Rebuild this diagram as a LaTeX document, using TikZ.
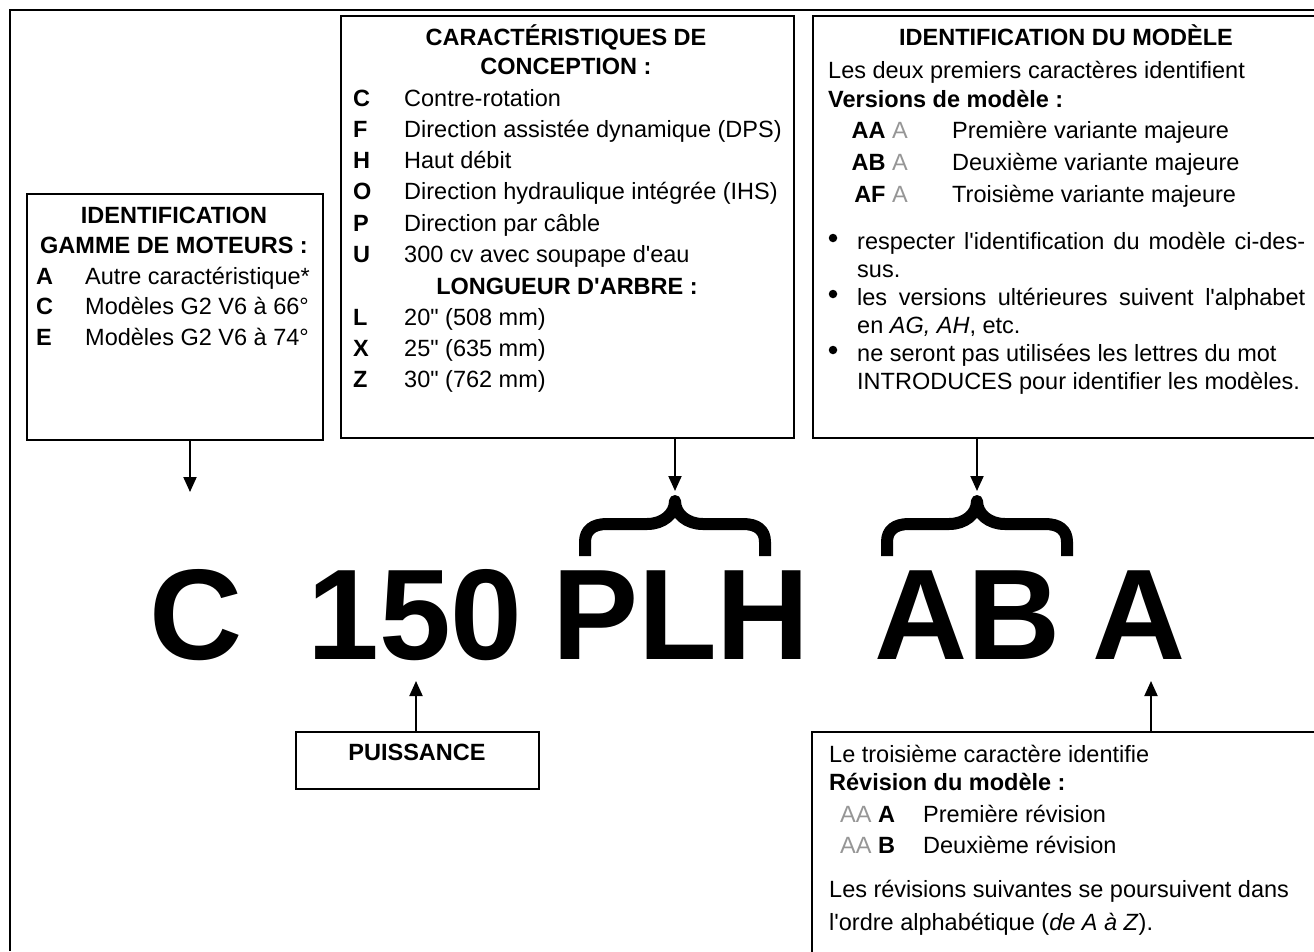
\documentclass[tikz,border=0pt]{standalone}
\usepackage{fontspec}
\setmainfont{Liberation Sans}[Ligatures=TeXOff]
\usetikzlibrary{arrows.meta}
\definecolor{codegrey}{RGB}{150,150,150}

\tikzset{
  box/.style={draw, line width=1.6pt, rectangle, inner sep=0pt, anchor=north west},
  txt/.style={anchor=base west, inner sep=0pt, font=\fontsize{23.5}{28}\selectfont},
  head/.style={anchor=base, inner sep=0pt, font=\fontsize{23.5}{28}\selectfont\bfseries},
  code/.style={anchor=base west, inner sep=0pt, font=\fontsize{23.5}{28}\selectfont\bfseries},
  big/.style={anchor=base, inner sep=0pt, font=\fontsize{129}{129}\selectfont\bfseries},
  dot/.style={circle, fill, inner sep=0pt, minimum size=8.5pt},
  arr/.style={-{Triangle[length=15pt,width=13pt]}, line width=2pt},
  brace/.style={line width=12pt, line join=round},
}

\begin{document}
\begin{tikzpicture}[x=1pt, y=-1pt]
    \useasboundingbox (0,0) rectangle (1314,951);
    \clip (0,0) rectangle (1314,951);
    \draw[line width=1.6pt] (10,951) -- (10,10) -- (1314,10);

    % boxes
    \node[box, minimum width=296pt, minimum height=246pt] (gamme) at (26,193) {};
    \node[box, minimum width=453pt, minimum height=422pt] (conc) at (340,15) {};
    \node[box, minimum width=530pt, minimum height=422pt] (modele) at (812,15) {};
    \node[box, minimum width=243pt, minimum height=57pt] (puis) at (295,731) {};
    \node[box, minimum width=530pt, minimum height=250pt] (rev) at (811,731) {};

    % gamme de moteurs
    \node[head] (g1) at (174,223) {IDENTIFICATION};
    \node[head] (g2) at (174,253) {GAMME DE MOTEURS :};
    \foreach \k/\t [count=\i from 0] in {A/Autre caractéristique*, C/Modèles G2 V6 à 66°, E/Modèles G2 V6 à 74°} {
        \node[code] (gk\i) at (36,284+30.5*\i) {\k};
        \node[txt] (gt\i) at (85,284+30.5*\i) {\t};
    }

    % conception
    \node[head] (c1) at (566,45) {CARACTÉRISTIQUES DE};
    \node[head] (c2) at (566,74) {CONCEPTION :};
    \foreach \k/\t [count=\i from 0] in {C/Contre-rotation, F/Direction assistée dynamique (DPS), H/Haut débit, O/Direction hydraulique intégrée (IHS), P/Direction par câble, U/300 cv avec soupape d'eau} {
        \node[code] (ck\i) at (353,106+31.3*\i) {\k};
        \node[txt] (ct\i) at (404,106+31.3*\i) {\t};
    }
    \node[head] (c3) at (567,294) {LONGUEUR D'ARBRE :};
    \foreach \k/\t [count=\i from 0] in {L/20" (508 mm), X/25" (635 mm), Z/30" (762 mm)} {
        \node[code] (lk\i) at (353,325+31.3*\i) {\k};
        \node[txt] (lt\i) at (404,325+31.3*\i) {\t};
    }

    % modele
    \node[head] (m1) at (1066,45) {IDENTIFICATION DU MODÈLE};
    \node[txt] (m2) at (828,78) {Les deux premiers caractères identifient};
    \node[code] (m3) at (828,107) {Versions de modèle :};
    \foreach \k/\t [count=\i from 0] in {AA/Première variante majeure, AB/Deuxième variante majeure, AF/Troisième variante majeure} {
        \node[code, anchor=base east] (mk\i) at (908,138+32*\i) {\k\ \textmd{\color{codegrey}A}};
        \node[txt] (mt\i) at (952,138+32*\i) {\t};
    }
    \foreach \y [count=\i] in {249,305,361}
        \node[dot] (bul\i) at (833,\y-11) {};
    \node[txt] (b1) at (857,249) {\makebox[448pt][s]{respecter l'identification du modèle ci-des-}};
    \node[txt] (b2) at (857,277) {sus.};
    \node[txt] (b3) at (857,305) {\makebox[448pt][s]{les versions ultérieures suivent l'alphabet}};
    \node[txt] (b4) at (857,333) {en \textit{AG, AH}, etc.};
    \node[txt] (b5) at (857,361) {ne seront pas utilisées les lettres du mot};
    \node[txt] (b6) at (857,389) {INTRODUCES pour identifier les modèles.};

    % puissance
    \node[head] (p1) at (417,760) {PUISSANCE};

    % revision
    \node[txt] (r1) at (829,762) {Le troisième caractère identifie};
    \node[code] (r2) at (829,790) {Révision du modèle :};
    \foreach \k/\t [count=\i from 0] in {A/Première révision, B/Deuxième révision} {
        \node[txt] (rk\i) at (840,822+31*\i) {\color{codegrey}AA\ \textbf{\color{black}\k}};
        \node[txt] (rt\i) at (923,822+31*\i) {\t};
    }
    \node[txt] (r3) at (829,897) {Les révisions suivantes se poursuivent dans};
    \node[txt] (r4) at (829,930) {l'ordre alphabétique (\textit{de A à Z}).};

    % model code
    \node[big] (bC) at (196,659) {C};
    \node[big] (b150) at (415,659) {150};
    \node[big] (bPLH) at (681,659) {PLH};
    \node[big] (bAB) at (968,659) {AB};
    \node[big] (bA) at (1139,659) {A};

    % braces
    \foreach \bx in {675,977}
        \draw[brace] (\bx-90,556) -- (\bx-90,542) .. controls (\bx-90,530) and (\bx-82,524) .. (\bx-68,524)
            -- (\bx-28,524) .. controls (\bx-12,524) and (\bx,514) .. (\bx,501)
            .. controls (\bx,514) and (\bx+12,524) .. (\bx+28,524) -- (\bx+68,524)
            .. controls (\bx+82,524) and (\bx+90,530) .. (\bx+90,542) -- (\bx+90,556);

    % arrows
    \coordinate (tipC) at (190,492);
    \coordinate (tipPLH) at (675,491);
    \coordinate (tipAB) at (977,491);
    \coordinate (tip150) at (416,681);
    \coordinate (tipA) at (1151,681);
    \draw[arr] (gamme.south -| tipC) -- (tipC);
    \draw[arr] (conc.south -| tipPLH) -- (tipPLH);
    \draw[arr] (modele.south -| tipAB) -- (tipAB);
    \draw[arr] (puis.north -| tip150) -- (tip150);
    \draw[arr] (rev.north -| tipA) -- (tipA);
\end{tikzpicture}
\end{document}
